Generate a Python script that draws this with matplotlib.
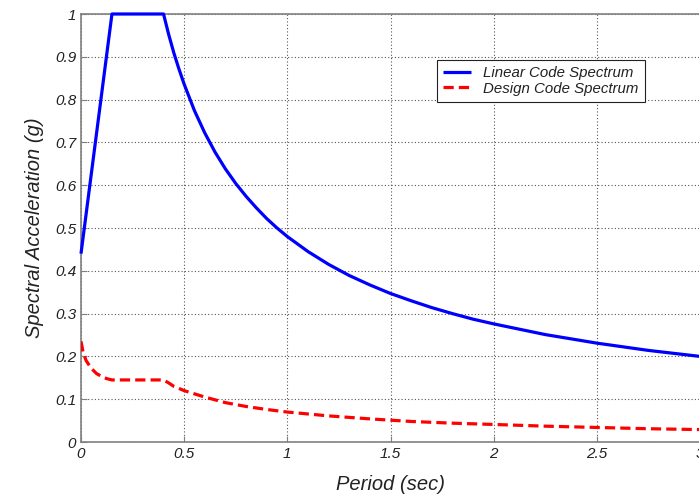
import matplotlib.pyplot as plt

plt.rcParams['font.family'] = ['Liberation Sans', 'DejaVu Sans']

# Linear code spectrum (blue)
lin_T = [0.0, 0.15, 0.4, 0.425, 0.45, 0.475, 0.5, 0.55, 0.6, 0.65, 0.7, 0.75,
         0.8, 0.85, 0.9, 0.95, 1.0, 1.1, 1.2, 1.3, 1.4, 1.5, 1.6, 1.7, 1.8,
         1.9, 2.0, 2.25, 2.5, 2.75, 3.0]
lin_Sa = [0.44, 1.0, 1.0, 0.952, 0.909, 0.871, 0.836, 0.774, 0.722, 0.677,
          0.638, 0.604, 0.574, 0.547, 0.522, 0.500, 0.48, 0.445, 0.415, 0.389,
          0.367, 0.347, 0.330, 0.314, 0.300, 0.287, 0.276, 0.251, 0.231,
          0.214, 0.200]

# Design code spectrum (red dashed)
des_T = [0.0, 0.01, 0.025, 0.05, 0.075, 0.1, 0.125, 0.15, 0.4, 0.425, 0.45,
         0.5, 0.6, 0.7, 0.8, 0.9, 1.0, 1.2, 1.4, 1.6, 1.8, 2.0, 2.25, 2.5,
         2.75, 3.0]
des_Sa = [0.235, 0.21, 0.19, 0.172, 0.16, 0.153, 0.148, 0.145, 0.145, 0.138,
          0.13, 0.12, 0.105, 0.092, 0.083, 0.076, 0.07, 0.061, 0.054, 0.048,
          0.044, 0.041, 0.037, 0.034, 0.031, 0.029]

xticks = [0, 0.5, 1, 1.5, 2, 2.5, 3]
xticklabels = ['0', '0.5', '1', '1.5', '2', '2.5', '3']
yticks = [0, 0.1, 0.2, 0.3, 0.4, 0.5, 0.6, 0.7, 0.8, 0.9, 1]
yticklabels = ['0', '0.1', '0.2', '0.3', '0.4', '0.5', '0.6', '0.7', '0.8', '0.9', '1']

fig = plt.figure(figsize=(6.99, 4.97), dpi=100)
ax = fig.add_axes([81 / 699, 1 - 442 / 497, 619 / 699, 428 / 497])

ax.plot(lin_T, lin_Sa, color='#0000ff', lw=2.3, label='Linear Code Spectrum',
        clip_on=False, solid_capstyle='butt', solid_joinstyle='round', zorder=3)
ax.plot(des_T, des_Sa, color='#ff0000', lw=2.3, ls=(0, (3.2, 1.6)),
        label='Design Code Spectrum', zorder=3)

ax.set_xlim(0, 3)
ax.set_ylim(0, 1)
ax.set_xticks(xticks)
ax.set_xticklabels(xticklabels)
ax.set_yticks(yticks)
ax.set_yticklabels(yticklabels)
ax.grid(True, ls=(0, (1, 2)), color='#555555', lw=0.8)

for s in ax.spines.values():
    s.set_color('#808080')
    s.set_linewidth(1.2)
ax.tick_params(direction='in', length=4, color='#808080', labelcolor='#222222',
               labelsize=11)
for lab in ax.get_xticklabels() + ax.get_yticklabels():
    lab.set_fontstyle('italic')

ax.set_xlabel('Period (sec)', fontsize=14.5, fontstyle='italic', color='#222222',
              labelpad=10)
ax.set_ylabel('Spectral Acceleration (g)', fontsize=14.5, fontstyle='italic',
              color='#222222', labelpad=8)

leg = ax.legend(loc='upper left', bbox_to_anchor=(0.575, 0.8925),
                fancybox=False, framealpha=1, edgecolor='#222222',
                borderaxespad=0, handlelength=1.9, borderpad=0.4,
                labelspacing=0.1, prop={'style': 'italic', 'size': 10.8})
leg.get_frame().set_linewidth(0.8)
for t in leg.get_texts():
    t.set_color('#222222')

fig.savefig('out.png', dpi=100)
